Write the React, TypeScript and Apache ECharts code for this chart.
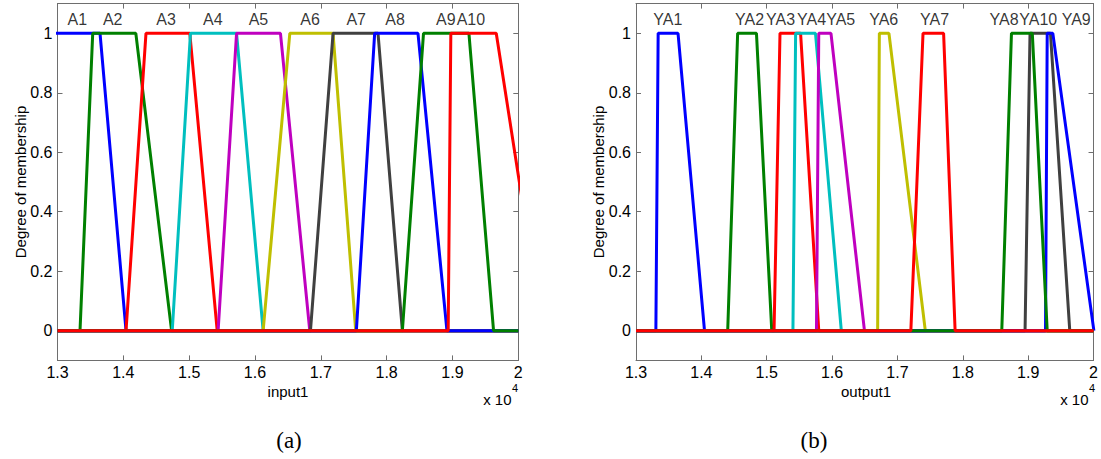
import React, { useEffect, useRef } from "react";
import * as echarts from "echarts";

// x values in real units (axis shows them ×10^4)
const X_MIN = 13000;
const X_MAX = 20000;
const Y_TICKS = [0, 0.2, 0.4, 0.6, 0.8, 1];
const LABEL_Y = 1.045;

// Left panel (a): trapezoid MF parameters [a, b, c, d]
const inputNames = ["A1", "A2", "A3", "A4", "A5", "A6", "A7", "A8", "A9", "A10"];
const A1 = [12000, 12500, 13646, 14041];
const A2 = [13342, 13535, 14190, 14733];
const A3 = [14041, 14344, 15010, 15426];
const A4 = [14743, 15020, 15720, 16124];
const A5 = [15440, 15720, 16387, 16832];
const A6 = [16124, 16529, 17186, 17530];
const A7 = [16843, 17186, 17869, 18239];
const A8 = [17540, 17818, 18476, 18916];
const A9 = [18239, 18560, 19250, 19624];
const A10 = [18935, 18975, 19665, 20367];
const inputMFs = [A1, A2, A3, A4, A5, A6, A7, A8, A9, A10];
const inputLabelX = [13301, 13839, 14649, 15359, 16052, 16837, 17537, 18129, 18900, 19280];

// Right panel (b): drawing order as in the FIS file
const outputNames = ["YA1", "YA2", "YA3", "YA4", "YA5", "YA6", "YA10", "YA9", "YA8", "YA7"];
const YA1 = [13304, 13339, 13643, 14048];
const YA2 = [14403, 14555, 14843, 15077];
const YA3 = [15112, 15203, 15518, 15796];
const YA4 = [15401, 15442, 15746, 16141];
const YA5 = [15761, 15796, 15983, 16495];
const YA6 = [16697, 16723, 16870, 17426];
const YA10 = [18952, 19028, 19341, 19636];
const YA9 = [19265, 19291, 19377, 20005];
const YA8 = [18596, 18744, 19063, 19291];
const YA7 = [17205, 17391, 17706, 17882];
const outputMFs = [YA1, YA2, YA3, YA4, YA5, YA6, YA10, YA9, YA8, YA7];
const outputLabelX = [13486, 14738, 15211, 15685, 16132, 16790, 19154, 19735, 18630, 17568];

const COLORS = ["#0000FF", "#008000", "#FF0000", "#00BFBF", "#BF00BF", "#BFBF00", "#404040", "#0000FF", "#008000", "#FF0000"];

const AXIS = "#6e6e6e";
const FONT = "Liberation Sans";

function trap(p: number[]): number[][] {
  const [a, b, c, d] = p;
  const pts: number[][] = [];
  if (a > X_MIN) pts.push([X_MIN, 0]);
  pts.push([a, 0], [b, 1], [c, 1], [d, 0]);
  if (d < X_MAX) pts.push([X_MAX, 0]);
  return pts;
}

function xAxis(g: number, pos: "bottom" | "top") {
  return {
    type: "value",
    gridIndex: g,
    position: pos,
    min: X_MIN,
    max: X_MAX,
    interval: 1000,
    axisLine: { show: true, onZero: false, lineStyle: { color: AXIS, width: 1 } },
    axisTick: { show: true, inside: true, length: 5, lineStyle: { color: AXIS } },
    axisLabel: {
      show: pos === "bottom",
      margin: 4,
      fontSize: 16,
      fontFamily: FONT,
      color: "#000",
      formatter: (v: number) => String(Math.round(v / 1000) / 10),
    },
    splitLine: { show: false },
  };
}

function yAxis(g: number, pos: "left" | "right") {
  return {
    type: "value",
    gridIndex: g,
    position: pos,
    min: -0.1,
    max: 1.1,
    axisLine: { show: true, onZero: false, lineStyle: { color: AXIS, width: 1 } },
    axisTick: { show: true, inside: true, length: 5, customValues: Y_TICKS, lineStyle: { color: AXIS } },
    axisLabel: {
      show: pos === "left",
      customValues: Y_TICKS,
      margin: 5,
      fontSize: 16,
      fontFamily: FONT,
      color: "#000",
      formatter: (v: number) => String(+v.toFixed(1)),
    },
    splitLine: { show: false },
  };
}

function lineSeries(mfs: number[][], axisIdx: number) {
  return mfs.map((p, i) => ({
    type: "line",
    xAxisIndex: axisIdx,
    yAxisIndex: axisIdx,
    data: trap(p),
    symbol: "none",
    showSymbol: false,
    clip: true,
    silent: true,
    lineStyle: { color: COLORS[i], width: 3 },
  }));
}

function labelSeries(names: string[], xs: number[], axisIdx: number) {
  return {
    type: "scatter",
    xAxisIndex: axisIdx,
    yAxisIndex: axisIdx,
    symbolSize: 1,
    silent: true,
    itemStyle: { color: "rgba(0,0,0,0)" },
    label: {
      show: true,
      position: "inside",
      formatter: "{b}",
      fontSize: 16,
      fontFamily: FONT,
      color: "#000",
    },
    data: names.map((n, i) => ({ name: n, value: [xs[i], LABEL_Y] })),
  };
}

function txt(text: string, x: number, y: number, size: number, opts: any = {}) {
  return {
    type: "text",
    x,
    y,
    rotation: opts.rotation || 0,
    silent: true,
    style: {
      text,
      fontSize: size,
      fontFamily: opts.family || FONT,
      fill: "#000",
      align: opts.align || "center",
      verticalAlign: "middle",
    },
  };
}

export default function App() {
  const ref = useRef<HTMLDivElement>(null);
  useEffect(() => {
    if (!ref.current) return;
    const chart = echarts.init(ref.current, undefined, { renderer: "svg" });
    chart.setOption({
      animation: false,
      backgroundColor: "#fff",
      grid: [
        { left: 57.5, top: 3.6, width: 460.8, height: 356.8 },
        { left: 636, top: 3.6, width: 460.7, height: 356.8 },
      ],
      xAxis: [xAxis(0, "bottom"), xAxis(0, "top"), xAxis(1, "bottom"), xAxis(1, "top")],
      yAxis: [yAxis(0, "left"), yAxis(0, "right"), yAxis(1, "left"), yAxis(1, "right")],
      series: [
        ...lineSeries(inputMFs, 0),
        labelSeries(inputNames, inputLabelX, 0),
        ...lineSeries(outputMFs, 2),
        labelSeries(outputNames, outputLabelX, 2),
      ],
      graphic: [
        txt("Degree of membership", 20, 182, 15, { rotation: Math.PI / 2 }),
        txt("Degree of membership", 598, 182, 15, { rotation: Math.PI / 2 }),
        txt("input1", 288, 391, 15),
        txt("output1", 866, 391, 15),
        txt("x 10", 511.5, 399, 15, { align: "right" }),
        txt("4", 512, 388, 11, { align: "left" }),
        txt("x 10", 1088.5, 399, 15, { align: "right" }),
        txt("4", 1089, 388, 11, { align: "left" }),
        txt("(a)", 289, 440, 23, { family: "Liberation Serif" }),
        txt("(b)", 814, 440, 23, { family: "Liberation Serif" }),
      ],
    });
    return () => chart.dispose();
  }, []);
  return (
    <div
      ref={ref}
      style={{ position: "fixed", left: 0, top: 0, width: 1101, height: 459, background: "#fff" }}
    />
  );
}
